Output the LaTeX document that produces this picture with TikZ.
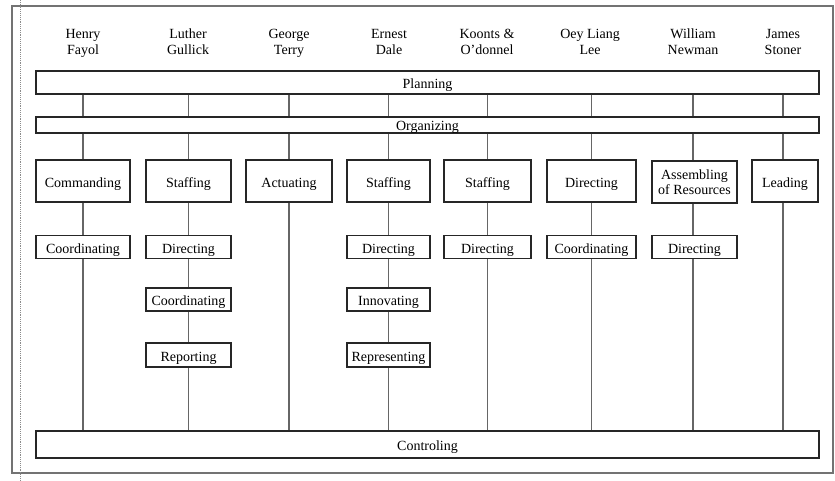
\documentclass[tikz,border=0pt]{standalone}
\usepackage{fontspec}
\setmainfont{Liberation Serif}

\tikzset{
    every node/.style={font=\fontsize{10.5}{11.5}\selectfont},
    bar/.style={draw=black!85, line width=0.8pt, inner sep=0pt, text height=9pt, text depth=0pt, minimum width=783*0.75pt},
    boxed/.style={draw=black!85, line width=0.8pt, inner sep=0pt, align=center},
    task/.style={boxed, text height=9pt, text depth=0pt},
    person/.style={align=center, inner sep=0pt, anchor=north},
    link/.style={draw=black!60, line width=0.8pt}
}

\begin{document}
\begin{tikzpicture}[x=0.75pt,y=-0.75pt]
    \useasboundingbox (0,0) rectangle (835,481);
    \draw[black!55, line width=1.1pt] (12,6) rectangle (833,473);
    \draw[black!45, densely dotted] (20,0) -- (20,481);

    % authors
    \node[person] (fayol)   at (83,28)  {\strut Henry\\Fayol};
    \node[person] (gullick) at (188,28) {\strut Luther\\Gullick};
    \node[person] (terry)   at (289,28) {\strut George\\Terry};
    \node[person] (dale)    at (389,28) {\strut Ernest\\Dale};
    \node[person] (koonts)  at (487,28) {\strut Koonts \&\\O'donnel};
    \node[person] (lee)     at (590,28) {\strut Oey Liang\\Lee};
    \node[person] (newman)  at (693,28) {\strut William\\Newman};
    \node[person] (stoner)  at (783,28) {\strut James\\Stoner};

    % shared functions
    \node[bar, minimum height=23*0.75pt] (plan) at (427.5,82.5) {Planning};
    \node[bar, minimum height=16*0.75pt] (org)  at (427.5,125)  {Organizing};
    \node[bar, minimum height=27*0.75pt] (ctrl) at (427.5,444.5) {Controling};

    % first row
    \node[task, minimum width=94*0.75pt, minimum height=42*0.75pt] (fayolA)   at (83,181)    {Commanding};
    \node[task, minimum width=85*0.75pt, minimum height=42*0.75pt] (gullickA) at (188.5,181) {Staffing};
    \node[task, minimum width=86*0.75pt, minimum height=42*0.75pt] (terryA)   at (289,181)   {Actuating};
    \node[task, minimum width=83*0.75pt, minimum height=42*0.75pt] (daleA)    at (388.5,181) {Staffing};
    \node[task, minimum width=87*0.75pt, minimum height=42*0.75pt] (koontsA)  at (487.5,181) {Staffing};
    \node[task, minimum width=89*0.75pt, minimum height=42*0.75pt] (leeA)     at (591.5,181) {Directing};
    \node[boxed, minimum width=85*0.75pt, minimum height=42*0.75pt] (newmanA) at (694.5,182) {Assembling\\of Resources};
    \node[task, minimum width=66*0.75pt, minimum height=42*0.75pt] (stonerA)  at (785,181)   {Leading};

    % second row
    \node[task, minimum width=94*0.75pt, minimum height=23*0.75pt] (fayolB)   at (83,247)    {Coordinating};
    \node[task, minimum width=85*0.75pt, minimum height=23*0.75pt] (gullickB) at (188.5,247) {Directing};
    \node[task, minimum width=83*0.75pt, minimum height=23*0.75pt] (daleB)    at (388.5,247) {Directing};
    \node[task, minimum width=87*0.75pt, minimum height=23*0.75pt] (koontsB)  at (487.5,247) {Directing};
    \node[task, minimum width=89*0.75pt, minimum height=23*0.75pt] (leeB)     at (591.5,247) {Coordinating};
    \node[task, minimum width=85*0.75pt, minimum height=23*0.75pt] (newmanB)  at (694.5,247) {Directing};

    % third and fourth row
    \node[task, minimum width=85*0.75pt, minimum height=23*0.75pt] (gullickC) at (188.5,299.5) {Coordinating};
    \node[task, minimum width=83*0.75pt, minimum height=23*0.75pt] (daleC)    at (388.5,299.5) {Innovating};
    \node[task, minimum width=85*0.75pt, minimum height=24*0.75pt] (gullickD) at (188.5,355)   {Reporting};
    \node[task, minimum width=83*0.75pt, minimum height=24*0.75pt] (daleD)    at (388.5,355)   {Representing};

    % planning to organizing
    \draw[link] (plan.south -| fayol)   -- (org.north -| fayol);
    \draw[link] (plan.south -| gullickA) -- (org.north -| gullickA);
    \draw[link] (plan.south -| terry)   -- (org.north -| terry);
    \draw[link] (plan.south -| daleA)   -- (org.north -| daleA);
    \draw[link] (plan.south -| koontsA) -- (org.north -| koontsA);
    \draw[link] (plan.south -| leeA)    -- (org.north -| leeA);
    \draw[link] (plan.south -| newman)  -- (org.north -| newman);
    \draw[link] (plan.south -| stoner)  -- (org.north -| stoner);

    % organizing to first row
    \draw[link] (org.south -| fayolA)   -- (fayolA.north);
    \draw[link] (org.south -| gullickA) -- (gullickA.north);
    \draw[link] (org.south -| terryA)   -- (terryA.north);
    \draw[link] (org.south -| daleA)    -- (daleA.north);
    \draw[link] (org.south -| koontsA)  -- (koontsA.north);
    \draw[link] (org.south -| leeA)     -- (leeA.north);
    \draw[link] (org.south -| newman)   -- (newman |- newmanA.north);
    \draw[link] (org.south -| stoner)   -- (stoner |- stonerA.north);

    % down the columns
    \draw[link] (fayolA)   -- (fayolB);
    \draw[link] (gullickA) -- (gullickB);
    \draw[link] (gullickB) -- (gullickC);
    \draw[link] (gullickC) -- (gullickD);
    \draw[link] (daleA)    -- (daleB);
    \draw[link] (daleB)    -- (daleC);
    \draw[link] (daleC)    -- (daleD);
    \draw[link] (koontsA)  -- (koontsB);
    \draw[link] (leeA)     -- (leeB);
    \draw[link] (newman |- newmanA.south) -- (newman |- newmanB.north);

    % into controling
    \draw[link] (fayolB.south)   -- (ctrl.north -| fayolB);
    \draw[link] (gullickD.south) -- (ctrl.north -| gullickD);
    \draw[link] (terryA.south)   -- (ctrl.north -| terryA);
    \draw[link] (daleD.south)    -- (ctrl.north -| daleD);
    \draw[link] (koontsB.south)  -- (ctrl.north -| koontsB);
    \draw[link] (leeB.south)     -- (ctrl.north -| leeB);
    \draw[link] (newman |- newmanB.south) -- (ctrl.north -| newman);
    \draw[link] (stoner |- stonerA.south) -- (ctrl.north -| stoner);
\end{tikzpicture}
\end{document}
